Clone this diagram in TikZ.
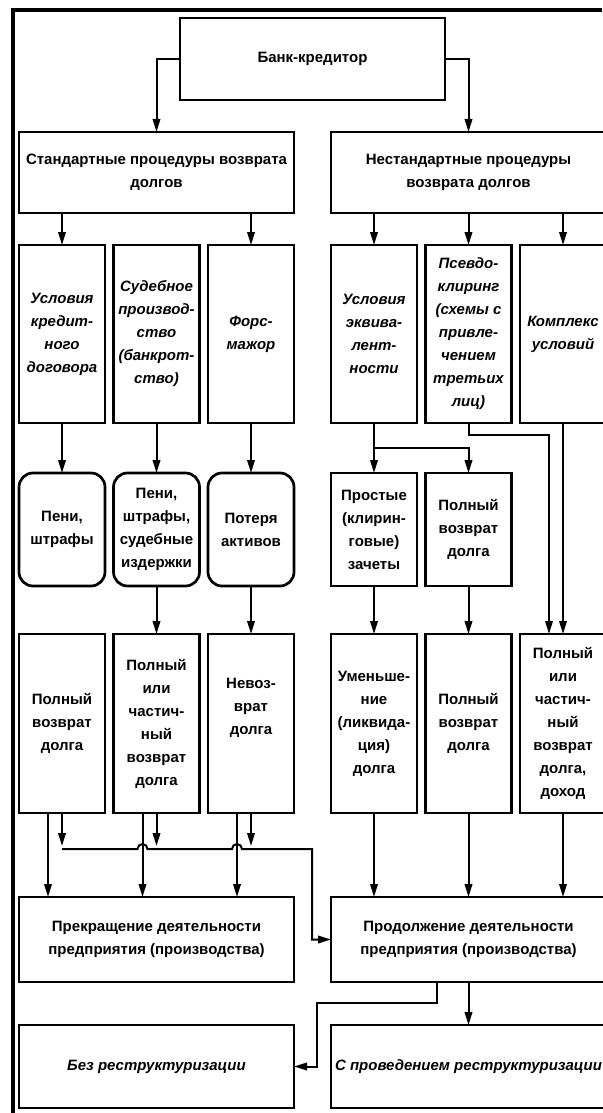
\documentclass[tikz,border=0pt]{standalone}
\usepackage{fontspec}
\setmainfont{Liberation Sans}
\usetikzlibrary{arrows.meta,positioning,calc}

\begin{document}
\begin{tikzpicture}[
x=1pt, y=-1pt,
node distance=8.5pt,
stagebox/.style={draw, line width=2.7pt, outer sep=0pt, inner sep=1pt, anchor=north west, align=center,
  font=\bfseries\fontsize{15}{23}\selectfont},
widebox/.style={stagebox, minimum width=275pt},
colbox/.style={stagebox, minimum width=86pt, minimum height=178pt},
outbox/.style={stagebox, minimum width=86pt, minimum height=113pt},
roundbox/.style={outbox, rounded corners=14pt},
resbox/.style={stagebox, minimum width=86pt, minimum height=179pt},
ital/.style={font=\bfseries\itshape\fontsize{15}{23}\selectfont},
arrow/.style={-{Triangle[length=13pt,width=7.5pt]}, line width=2pt}
]
\useasboundingbox (0,0) rectangle (602,1113);
\draw[line width=4pt] (13,1113) -- (13,10) -- (602,10);

\node[stagebox, minimum width=265pt, minimum height=82pt] (bank) at (180,18) {Банк-кредитор};
\node[widebox, minimum height=81pt] (std) at (19,132) {Стандартные процедуры возврата\\долгов};
\node[widebox, minimum height=81pt] (nstd) at (331,132) {Нестандартные процедуры\\возврата долгов};

\node[colbox, ital] (c1) at (19,245) {Условия\\кредит-\\ного\\договора};
\node[colbox, ital, right=of c1] (c2) {Судебное\\производ-\\ство\\(банкрот-\\ство)};
\node[colbox, ital, right=of c2] (c3) {Форс-\\мажор};
\node[colbox, ital] (c4) at (331,245) {Условия\\эквива-\\лент-\\ности};
\node[colbox, ital, right=of c4] (c5) {Псевдо-\\клиринг\\(схемы с\\привле-\\чением\\третьих\\лиц)};
\node[colbox, ital, right=of c5] (c6) {Комплекс\\условий};

\node[roundbox] (p1) at (19,473) {Пени,\\штрафы};
\node[roundbox, right=of p1] (p2) {Пени,\\штрафы,\\судебные\\издержки};
\node[roundbox, right=of p2] (p3) {Потеря\\активов};
\node[outbox] (p4) at (331,473) {Простые\\(клирин-\\говые)\\зачеты};
\node[outbox, right=of p4] (p5) {Полный\\возврат\\долга};

\node[resbox] (r1) at (19,634) {Полный\\возврат\\долга};
\node[resbox, right=of r1] (r2) {Полный\\или\\частич-\\ный\\возврат\\долга};
\node[resbox, right=of r2] (r3) {Невоз-\\врат\\долга\\[12pt]};
\node[resbox] (r4) at (331,634) {Уменьше-\\ние\\(ликвида-\\ция)\\долга};
\node[resbox, right=of r4] (r5) {Полный\\возврат\\долга};
\node[resbox, right=of r5] (r6) {Полный\\или\\частич-\\ный\\возврат\\долга,\\доход};

\node[widebox, minimum height=85pt] (stop) at (19,897) {Прекращение деятельности\\предприятия (производства)};
\node[widebox, minimum height=85pt] (cont) at (331,897) {Продолжение деятельности\\предприятия (производства)};
\node[widebox, ital, minimum height=83pt] (norst) at (19,1025) {Без реструктуризации};
\node[widebox, ital, minimum height=83pt] (rst) at (331,1025) {С проведением реструктуризации};

\coordinate (bus) at (62,849);
\coordinate (turn) at (312,849);
\coordinate (elbow) at (317,1003);

\draw[arrow] (bank.west) -| (std.north);
\draw[arrow] (bank.east) -| (nstd.north);
\draw[arrow] (c1.north |- std.south) -- (c1.north);
\draw[arrow] (c3.north |- std.south) -- (c3.north);
\foreach \c in {c4,c5,c6}
  \draw[arrow] (\c.north |- nstd.south) -- (\c.north);
\foreach \a/\b in {c1/p1,c2/p2,c3/p3,c4/p4,p2/r2,p3/r3,p4/r4,p5/r5,c6/r6}
  \draw[arrow] (\a.south) -- (\b.north);
\draw[arrow] ($(c4.south)!0.5!(p4.north)$) -| (p5.north);
\draw[arrow] (c5.south) -- ++(0,12) -| ([xshift=-14pt]r6.north);
\foreach \r in {r1,r2,r3} {
  \draw[arrow] ([xshift=-14pt]\r.south) -- ([xshift=-14pt]\r.south |- stop.north);
  \draw[arrow] (\r.south) -- ([yshift=3pt]\r.south |- bus);
}
\foreach \r in {r4,r5,r6}
  \draw[arrow] (\r.south) -- (\r.south |- cont.north);
\draw[arrow] (bus) -- ([xshift=-19pt]bus -| r2.south) arc[start angle=180, end angle=0, radius=5pt]
  -- ([xshift=-19pt]bus -| r3.south) arc[start angle=180, end angle=0, radius=5pt]
  -- (turn) |- (cont.west);
\draw[arrow] (cont.south) -- (rst.north);
\draw[arrow] ([xshift=-32pt]cont.south) |- (elbow) |- (norst.east);
\end{tikzpicture}
\end{document}
